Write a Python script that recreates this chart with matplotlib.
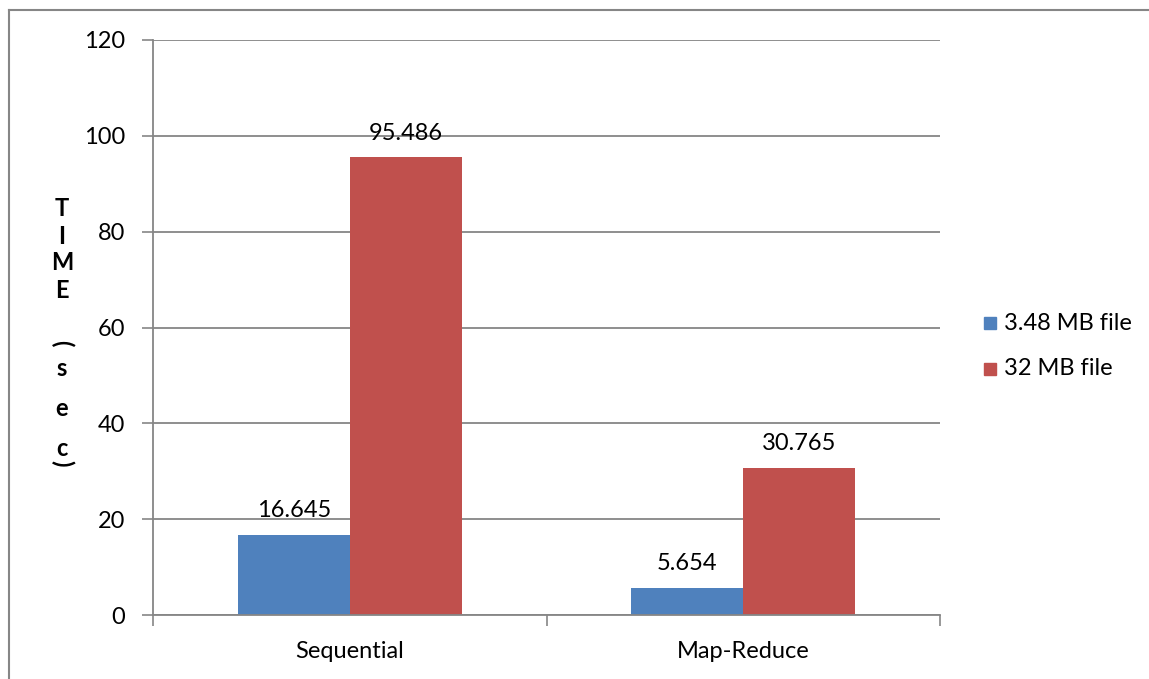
import matplotlib
matplotlib.use("Agg")
import matplotlib.pyplot as plt
from matplotlib.lines import Line2D
from matplotlib.patches import Rectangle

plt.rcParams['font.family'] = ['Lato', 'DejaVu Sans']

categories = ["Sequential", "Map-Reduce"]
series_names = ["3.48 MB file", "32 MB file"]
small_file = [16.645, 5.654]
large_file = [95.486, 30.765]
y_ticks = [0, 20, 40, 60, 80, 100, 120]

BLUE = "#4F81BD"
RED = "#C0504D"
GRAY = "#868686"
FS = 17

W, H = 1149, 679
fig = plt.figure(figsize=(W / 100, H / 100), dpi=100)

# plot area in pixel coordinates
left, right, top, bottom = 153, 940, 40, 615
ax = fig.add_axes([left / W, 1 - bottom / H, (right - left) / W, (bottom - top) / H])

bar_w = 0.2846
xs = list(range(len(categories)))
ax.bar([x - bar_w / 2 for x in xs], small_file, width=bar_w, color=BLUE, zorder=3)
ax.bar([x + bar_w / 2 for x in xs], large_file, width=bar_w, color=RED, zorder=3)

for vals, off in ((small_file, -bar_w / 2), (large_file, bar_w / 2)):
    for x, v in zip(xs, vals):
        ax.annotate(f"{v:g}", (x + off, v), xytext=(0, 10), textcoords="offset points",
                    ha="center", va="bottom", fontsize=FS, color="black")

ax.set_xlim(-0.5, len(categories) - 0.5)
ax.set_ylim(0, 120)
ax.set_yticks(y_ticks)
ax.set_yticklabels([str(t) for t in y_ticks], fontsize=FS)
ax.set_xticks([-0.5, 0.5, 1.5])
ax.set_xticklabels([])
ax.set_xticks(xs, minor=True)
ax.set_xticklabels(categories, minor=True, fontsize=FS)
ax.tick_params(axis="x", which="major", direction="out", length=8, width=1.2, color=GRAY)
ax.tick_params(axis="x", which="minor", length=0, pad=19)
ax.tick_params(axis="y", direction="out", length=8, width=1.2, color=GRAY, pad=12)

for s in ("top", "right"):
    ax.spines[s].set_visible(False)
for s in ("left", "bottom"):
    ax.spines[s].set_color(GRAY)
    ax.spines[s].set_linewidth(1.3)
ax.spines["bottom"].set_zorder(4)

ax.yaxis.grid(True, color=GRAY, linewidth=1.3, zorder=0)
ax.set_axisbelow(True)

# stacked axis title
label_chars = [("T", 0, 209), ("I", 0, 237), ("M", 0, 263), ("E", 0, 291),
               ("(", -90, 343), ("s", 0, 368), ("e", 0, 409), ("c", 0, 448), (")", -90, 463)]
for ch, rot, py in label_chars:
    fig.text(62 / W, 1 - py / H, ch, ha="center", va="center", rotation=rot,
             fontsize=FS, fontweight="bold")

# legend
for name, color, py in ((series_names[0], BLUE, 323), (series_names[1], RED, 369)):
    fig.patches.append(Rectangle((984 / W, 1 - (py + 6) / H), 12 / W, 12 / H,
                                 transform=fig.transFigure, color=color))
    fig.text(1004 / W, 1 - py / H, name, ha="left", va="center", fontsize=FS)

# chart frame
fig.add_artist(Line2D([9 / W, 1148 / W], [1 - 10 / H, 1 - 10 / H], color=GRAY, lw=1.5,
                      transform=fig.transFigure))
fig.add_artist(Line2D([9 / W, 9 / W], [1 - 10 / H, 0], color=GRAY, lw=1.5,
                      transform=fig.transFigure))

fig.savefig("out.png", dpi=100)
